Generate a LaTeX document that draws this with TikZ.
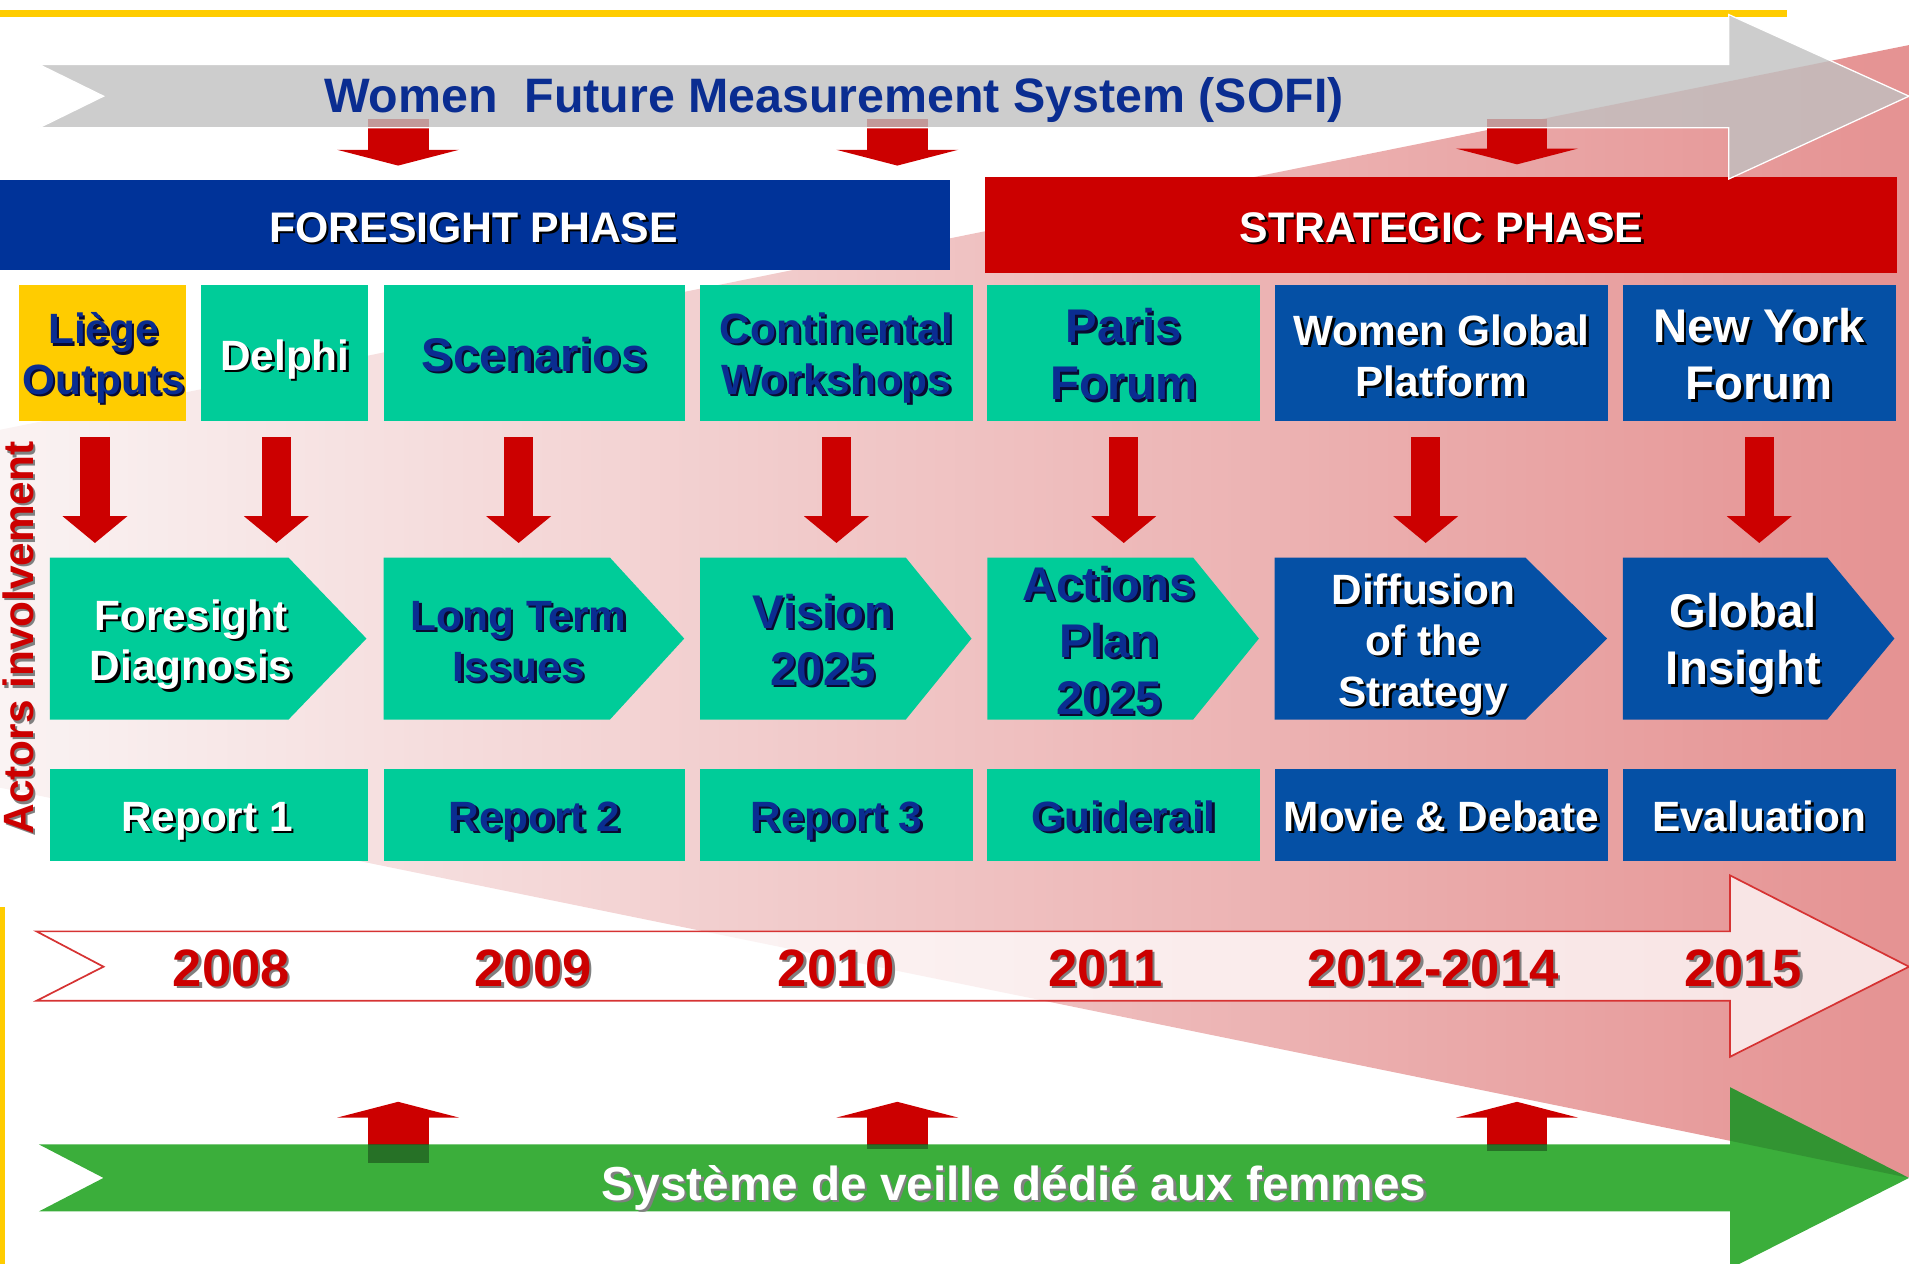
\documentclass[tikz,border=0pt]{standalone}
\usepackage{fontspec}
\setmainfont{Liberation Sans}
\usetikzlibrary{arrows.meta,calc,fit}
\definecolor{dblue}{HTML}{003399}
\definecolor{tblue}{HTML}{0A2D91}
\definecolor{tshadow}{HTML}{0A0A30}
\definecolor{bgreen}{HTML}{00CC99}
\definecolor{bblue}{HTML}{0550A5}
\definecolor{ared}{HTML}{CC0000}
\definecolor{yel}{HTML}{FFCC00}
\definecolor{agreen}{HTML}{3BAE3B}
\definecolor{graya}{HTML}{C0C0C0}
\definecolor{pinkL}{HTML}{FAF3F3}
\definecolor{pinkR}{HTML}{E59292}
\newcommand\shtxt[6]{%
  \node[#5,text=#4] (#1-sh) at ($(#2)+(2,2)$) {#6};
  \node[#5,text=#3] (#1) at (#2) {#6};
}
\newcommand\chev[5]{%
  \fill[#5] (#2,458) -- (#3,458) -- (#4,524.5) -- (#3,591) -- (#2,591) -- cycle;
  \node[box, fit={(#2,458) (#4,591)}] (#1) {};
}
\tikzset{
  box/.style={inner sep=0pt, outer sep=0pt},
  txt/.style={inner sep=0pt, align=center},
  fA/.style={txt, font=\fontsize{19.8}{23.8}\selectfont\bfseries},
  fB/.style={txt, font=\fontsize{22.1}{26.6}\selectfont\bfseries},
  fP/.style={txt, font=\fontsize{20}{24}\selectfont\bfseries},
  fT/.style={txt, font=\fontsize{22.6}{26}\selectfont\bfseries},
  fY/.style={txt, font=\fontsize{24.6}{28}\selectfont\bfseries},
  fS/.style={txt, font=\fontsize{22.3}{26}\selectfont\bfseries},
  toparr/.style={draw=ared, line width=1cm, -{Triangle[width=2cm,length=0.26cm]}},
  uparr/.style={draw=ared, line width=1cm, -{Triangle[width=2cm,length=0.26cm]}},
  downarr/.style={draw=ared, line width=0.48cm, -{Triangle[width=1.04cm,length=0.44cm]}},
}
\begin{document}
\begin{tikzpicture}[x=0.02cm,y=-0.02cm]
\useasboundingbox (0,0) rectangle (1568,1038);
% pink funnel background
\shade[left color=pinkL, right color=pinkR] (0,353) -- (1568,37) -- (1568,967) -- (0,647) -- cycle;
% yellow lines
\fill[yel] (0,8) rectangle (1468,14);
\fill[yel] (0,745) rectangle (4,1038);
% phase bars
\node[box, fill=dblue, fit={(0,148) (780,222)}] (fore) {};
\node[box, fill=ared, fit={(809,145) (1558,224)}] (strat) {};
\node[box, fit={(32,53) (1420,105)}] (sofi) {};
\coordinate (t1) at (327,0);
\coordinate (t2) at (737,0);
\coordinate (t3) at (1246,0);
\draw[toparr, shorten <=-0.14cm, shorten >=0.24cm] (sofi.south -| t1) -- (fore.north -| t1);
\draw[toparr, shorten <=-0.14cm, shorten >=0.24cm] (sofi.south -| t2) -- (fore.north -| t2);
\draw[toparr, shorten <=-0.14cm, shorten >=0.2cm] (sofi.south -| t3) -- (strat.north -| t3);
% grey SOFI arrow
\path[fill=graya, fill opacity=0.8, draw=white, line width=0.6pt] (32,53) -- (1420,53) -- (1420,12) -- (1568,79) -- (1420,147) -- (1420,105) -- (32,105) -- (85,79) -- cycle;
\node[fT, anchor=base, text=tblue] (sofit) at (685,92) {Women\ \ Future Measurement System (SOFI)};
\shtxt{foret}{389,199}{white}{black}{fP,anchor=base}{FORESIGHT PHASE}
\shtxt{stratt}{1184,199}{white}{black}{fP,anchor=base}{STRATEGIC PHASE}
% top row boxes
\node[box, fill=yel, fit={(16,234) (153,346)}] (liege) {};
\node[box, fill=bgreen, fit={(165,234) (302,346)}] (delphi) {};
\node[box, fill=bgreen, fit={(315,234) (563,346)}] (scen) {};
\node[box, fill=bgreen, fit={(575,234) (799,346)}] (cont) {};
\node[box, fill=bgreen, fit={(811,234) (1035,346)}] (paris) {};
\node[box, fill=bblue, fit={(1047,234) (1321,346)}] (wgp) {};
\node[box, fill=bblue, fit={(1333,234) (1557,346)}] (nyf) {};
\shtxt{liegeT}{85,294}{tblue}{tshadow}{fA}{Liège\\Outputs}
\shtxt{delphiT}{234,304}{white}{black}{fA,anchor=base}{Delphi}
\shtxt{scenT}{439,305}{tblue}{tshadow}{fB,anchor=base}{Scenarios}
\shtxt{contT}{687,294}{tblue}{tshadow}{fA}{Continental\\Workshops}
\shtxt{parisT}{923,291}{tblue}{tshadow}{fB}{Paris\\Forum}
\shtxt{wgpT}{1184,292}{white}{black}{fA}{Women Global\\Platform}
\shtxt{nyfT}{1445,291}{white}{black}{fB}{New York\\Forum}
% chevrons
\chev{fd}{41}{237}{301}{bgreen}
\chev{lt}{315}{501}{562}{bgreen}
\chev{vi}{575}{744}{798}{bgreen}
\chev{ap}{811}{980}{1034}{bgreen}
\chev{di}{1047}{1253}{1320}{bblue}
\chev{gi}{1333}{1501}{1556}{bblue}
\shtxt{fdT}{157,529.5}{white}{black}{fA}{Foresight\\Diagnosis}
\shtxt{ltT}{426,527}{tblue}{tshadow}{fA}{Long Term\\Issues}
\shtxt{viT}{676,525.5}{tblue}{tshadow}{fB}{Vision\\2025}
\shtxt{apT}{911,526}{tblue}{tshadow}{fB}{Actions\\Plan\\2025}
\shtxt{diT}{1169,529.5}{white}{black}{fA}{Diffusion\\of the\\Strategy}
\shtxt{giT}{1432,529}{white}{black}{fB}{Global\\Insight}
% down arrows
\coordinate (k1) at (78,0);
\coordinate (k2) at (227,0);
\coordinate (k3) at (426,0);
\coordinate (k4) at (687,0);
\coordinate (k5) at (923,0);
\coordinate (k6) at (1171,0);
\coordinate (k7) at (1445,0);
\draw[downarr, shorten <=0.26cm, shorten >=0.24cm] (liege.south -| k1) -- (fd.north -| k1);
\draw[downarr, shorten <=0.26cm, shorten >=0.24cm] (delphi.south -| k2) -- (fd.north -| k2);
\draw[downarr, shorten <=0.26cm, shorten >=0.24cm] (scen.south -| k3) -- (lt.north -| k3);
\draw[downarr, shorten <=0.26cm, shorten >=0.24cm] (cont.south -| k4) -- (vi.north -| k4);
\draw[downarr, shorten <=0.26cm, shorten >=0.24cm] (paris.south -| k5) -- (ap.north -| k5);
\draw[downarr, shorten <=0.26cm, shorten >=0.24cm] (wgp.south -| k6) -- (di.north -| k6);
\draw[downarr, shorten <=0.26cm, shorten >=0.24cm] (nyf.south -| k7) -- (gi.north -| k7);
% report row
\node[box, fill=bgreen, fit={(41,632) (302,707)}] (r1) {};
\node[box, fill=bgreen, fit={(315,632) (563,707)}] (r2) {};
\node[box, fill=bgreen, fit={(575,632) (799,707)}] (r3) {};
\node[box, fill=bgreen, fit={(811,632) (1035,707)}] (r4) {};
\node[box, fill=bblue, fit={(1047,632) (1321,707)}] (r5) {};
\node[box, fill=bblue, fit={(1333,632) (1557,707)}] (r6) {};
\shtxt{r1T}{170,683}{white}{black}{fA,anchor=base}{Report 1}
\shtxt{r2T}{439,683}{tblue}{tshadow}{fA,anchor=base}{Report 2}
\shtxt{r3T}{687,683}{tblue}{tshadow}{fA,anchor=base}{Report 3}
\shtxt{r4T}{923,683}{tblue}{tshadow}{fA,anchor=base}{Guiderail}
\shtxt{r5T}{1184,683}{white}{black}{fA,anchor=base}{Movie \& Debate}
\shtxt{r6T}{1445,683}{white}{black}{fA,anchor=base}{Evaluation}
% actors involvement
\shtxt{actors}{15,524}{ared}{gray}{fA,rotate=90}{Actors involvement}
% year arrow
\path[fill=white, fill opacity=0.75, draw=ared!80!white, line width=0.8pt] (30,765) -- (1421,765) -- (1421,719) -- (1568,794) -- (1421,868) -- (1421,822) -- (30,822) -- (85,794) -- cycle;
\node[box, fit={(30,765) (1421,822)}] (yrs) {};
\shtxt{y1}{190,810}{ared}{gray}{fY,anchor=base}{2008}
\shtxt{y2}{438,810}{ared}{gray}{fY,anchor=base}{2009}
\shtxt{y3}{687,810}{ared}{gray}{fY,anchor=base}{2010}
\shtxt{y4}{908,810}{ared}{gray}{fY,anchor=base}{2011}
\shtxt{y5}{1177,810}{ared}{gray}{fY,anchor=base}{2012-2014}
\shtxt{y6}{1432,810}{ared}{gray}{fY,anchor=base}{2015}
% bottom green arrow
\node[box, fit={(32,940) (1421,995)}] (veille) {};
\draw[uparr, shorten <=-0.3cm, shorten >=1.66cm] (veille.north -| t1) -- (yrs.south -| t1);
\draw[uparr, shorten <=-0.08cm, shorten >=1.66cm] (veille.north -| t2) -- (yrs.south -| t2);
\draw[uparr, shorten <=-0.1cm, shorten >=1.66cm] (veille.north -| t3) -- (yrs.south -| t3);
\fill[agreen] (32,940) -- (1421,940) -- (1421,893) -- (1568,967.5) -- (1421,1042) -- (1421,995) -- (32,995) -- (85,967.5) -- cycle;
\fill[black, opacity=0.15] (1421,893) -- (1568,967.5) -- (1421,937) -- cycle;
\fill[black, opacity=0.35] (302,940) rectangle (352,955);
\fill[black, opacity=0.35] (712,940) rectangle (762,944);
\fill[black, opacity=0.35] (1221,940) rectangle (1271,945);
\shtxt{veilleT}{833,986}{white}{gray}{fS,anchor=base}{Système de veille dédié aux femmes}
\end{tikzpicture}
\end{document}
